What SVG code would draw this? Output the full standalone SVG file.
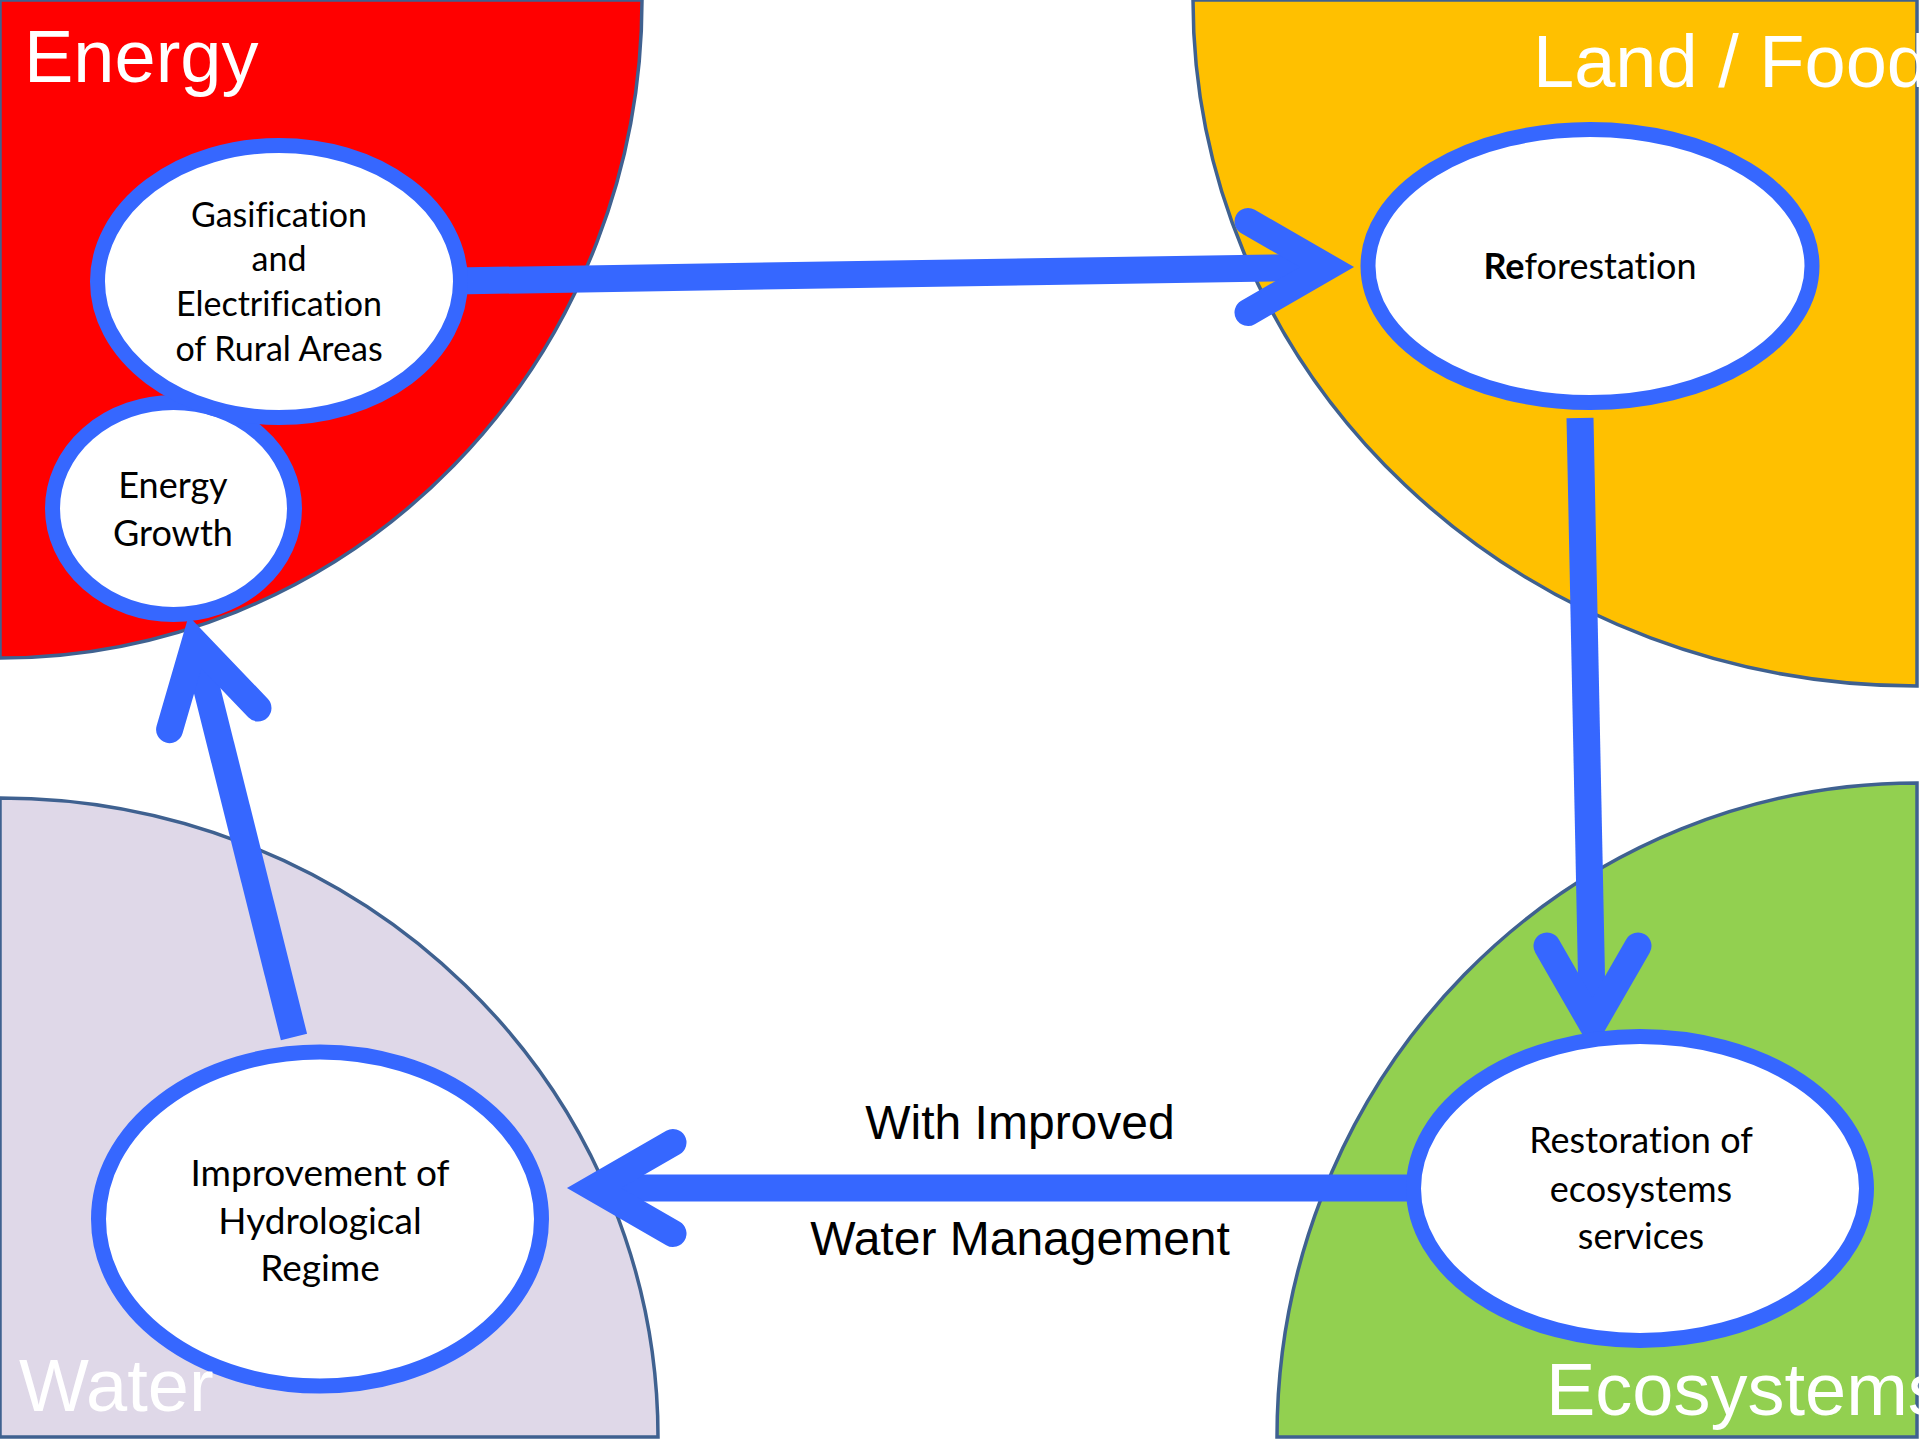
<svg xmlns="http://www.w3.org/2000/svg" width="1920" height="1440" viewBox="0 0 1920 1440">
<style>
.quad{stroke:#3F6190;stroke-width:3.5}
.qlabel{font-family:"Liberation Sans",Arial,sans-serif;font-size:74px;fill:#FFFFFF}
.node ellipse{fill:#FFFFFF;stroke:#3667FF;stroke-width:15}
.ntext{font-family:Lato,"Noto Sans",sans-serif;font-size:36px;fill:#000000;text-anchor:middle;font-variant-ligatures:none}
.shaft{fill:none;stroke:#3667FF;stroke-width:27;stroke-linecap:butt}
.head{fill:none;stroke:#3667FF;stroke-width:27;stroke-linecap:round;stroke-linejoin:miter;stroke-miterlimit:4}
.elabel{font-family:"Liberation Sans",Arial,sans-serif;font-size:48px;fill:#000000;text-anchor:middle}
</style>
<rect x="0" y="0" width="1920" height="1440" fill="#FFFFFF"/>
<g id="quadrants">
<path id="q-energy" class="quad" fill="#FF0000" d="M0,0 H642 A642,658 0 0 1 0,658 Z"/>
<path id="q-land" class="quad" fill="#FFC000" d="M1917,0 V686 A724,686 0 0 1 1193,0 Z"/>
<path id="q-water" class="quad" fill="#DFD8E8" d="M0,798 A658,639 0 0 1 658,1437 H0 Z"/>
<path id="q-eco" class="quad" fill="#92D050" d="M1277,1437 A640,654 0 0 1 1917,783 V1437 Z"/>
</g>
<g id="connectors">
<path class="shaft" d="M455,281 L1327,267"/>
<path class="head" d="M1248,221.5 L1327,267 L1248,312.5"/>
<path class="shaft" d="M1580,418 L1592.5,1025"/>
<path class="head" d="M1547,946 L1592.5,1025 L1638,946"/>
<path class="shaft" d="M1420,1188 L594,1188"/>
<path class="head" d="M673,1142.5 L594,1188 L673,1233.5"/>
<path class="shaft" d="M294,1037 L195,642"/>
<path class="head" d="M169.6,729.6 L195,642.2 L258,708"/>
</g>
<g id="node-energy-growth" class="node">
<ellipse cx="173.5" cy="508.5" rx="121" ry="106"/>
<text class="ntext" x="173" y="498">Energy</text>
<text class="ntext" x="173" y="546">Growth</text>
</g>
<g id="node-gasification" class="node">
<ellipse cx="279" cy="281.5" rx="181.5" ry="136"/>
<text class="ntext" x="279" y="226.5" style="font-size:34px">Gasification</text>
<text class="ntext" x="279" y="271" style="font-size:34px">and</text>
<text class="ntext" x="279" y="316" style="font-size:34px">Electrification</text>
<text class="ntext" x="279" y="361" style="font-size:34px">of Rural Areas</text>
</g>
<g id="node-reforestation" class="node">
<ellipse cx="1590" cy="266" rx="222" ry="136.5"/>
<text class="ntext" x="1590" y="279"><tspan font-weight="bold">Re</tspan>forestation</text>
</g>
<g id="node-restoration" class="node">
<ellipse cx="1640" cy="1188.5" rx="226.5" ry="152"/>
<text class="ntext" x="1641" y="1153">Restoration of</text>
<text class="ntext" x="1641" y="1201.6">ecosystems</text>
<text class="ntext" x="1641" y="1248.6">services</text>
</g>
<g id="node-improvement" class="node">
<ellipse cx="320" cy="1219" rx="221.5" ry="167"/>
<text class="ntext" x="320" y="1186" style="font-size:37px">Improvement of</text>
<text class="ntext" x="320" y="1234" style="font-size:37px">Hydrological</text>
<text class="ntext" x="320" y="1281" style="font-size:37px">Regime</text>
</g>
<g id="quadrant-labels">
<text class="qlabel" x="24" y="82">Energy</text>
<text class="qlabel" x="1533" y="87">Land / Food</text>
<text class="qlabel" x="19" y="1411">Water</text>
<text class="qlabel" x="1546" y="1415">Ecosystems</text>
</g>
<g id="edge-labels">
<text class="elabel" x="1020" y="1139">With Improved</text>
<text class="elabel" x="1020" y="1255">Water Management</text>
</g>
</svg>
